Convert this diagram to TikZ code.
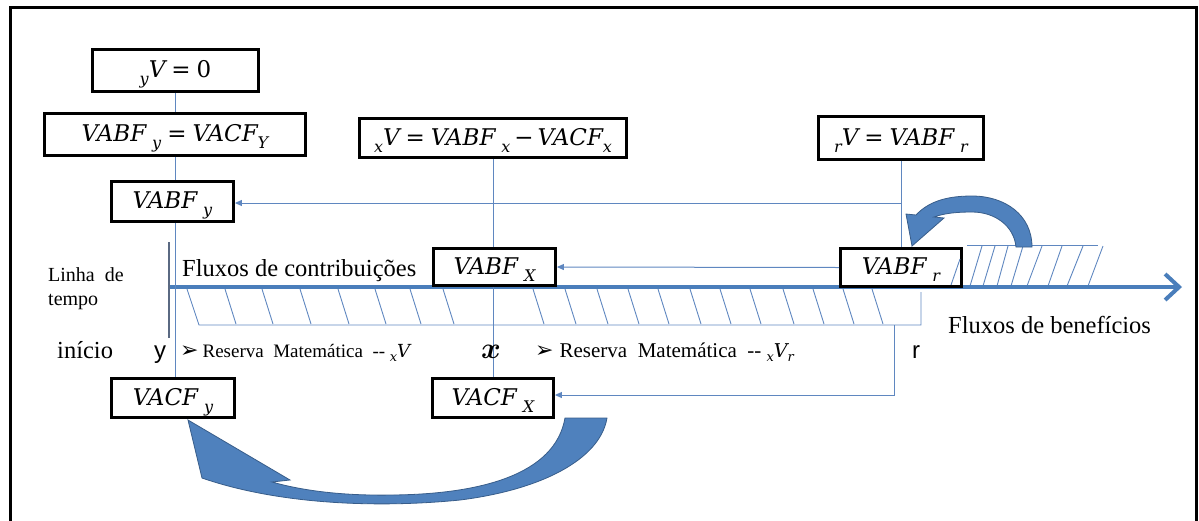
\documentclass[tikz,border=0pt]{standalone}
\usepackage{fix-cm}
\usepackage{amsmath}
\usepackage{fontspec}
\setmainfont{Liberation Serif}
\newfontfamily\arialf{Liberation Sans}
\newfontfamily\dejavu{DejaVu Sans}
\newfontfamily\dserif{DejaVu Serif}
\usetikzlibrary{arrows.meta}

\newcommand\mvar[1]{{\dserif\itshape #1}}
\newcommand\msub[1]{\raisebox{-7pt}{\fontsize{16}{16}\selectfont\dserif\itshape #1}}
\newcommand\meq{\hspace{6pt}{\dserif =}\hspace{6pt}}
\newcommand\mminus{\hspace{4pt}{\dserif −}\hspace{4pt}}

\definecolor{axisblue}{RGB}{74,126,187}
\definecolor{connblue}{RGB}{95,135,192}
\definecolor{arrfill}{RGB}{79,129,189}
\definecolor{arredge}{RGB}{56,93,138}
\definecolor{tickgray}{RGB}{90,105,130}

\tikzset{
 bx/.style={draw=black, line width=2.8pt, fill=white, inner sep=0pt, text height=22pt, text depth=8pt, font=\fontsize{23}{27}\selectfont},
 conn/.style={draw=connblue, line width=1pt},
 carrow/.style={conn, -{Triangle[length=7pt,width=6pt]}},
 hatch/.style={draw=connblue, line width=0.9pt},
 lbl/.style={inner sep=0pt, anchor=base west},
 txt/.style={lbl, font=\fontsize{24.5}{28}\selectfont},
 sans/.style={lbl, font=\arialf\fontsize{24}{28}\selectfont},
 blockarrow/.style={fill=arrfill, draw=arredge, line width=0.8pt},
}

\begin{document}
\begin{tikzpicture}[x=1pt,y=-1pt]
\useasboundingbox (0,0) rectangle (1199,520);

% frame (bottom cut off)
\draw[line width=3pt] (10,521) -- (10,7) -- (1196,7) -- (1196,521);

% hatched band under the axis
\draw[hatch] (187,289) -- (199,325) -- (921,325) -- (921,292);
\foreach \t in {225,262,300,338,375,410,443,533,565,597,628,658,690,720,750,783,813,843,872}
  \draw[hatch] (\t,289) -- ({\t+11},324);
% hatched band above the axis (right)
\draw[hatch] (967,245) -- (1098,245);
\foreach \b/\t in {970/982,983/995,997/1008,1011/1023,1027/1042,1048/1062,1067/1083,1088/1103}
  \draw[hatch] (\b,286) -- (\t,246);

% start tick of the time line
\draw[draw=tickgray, line width=1.4pt] (169,242) -- (169,338);

% time axis
\draw[draw=axisblue, line width=4pt, -{Straight Barb[length=14pt,width=26pt]}] (170,287) -- (1182,287);

% boxes
\node[bx, minimum width=166pt, minimum height=42pt] (yV0) at (175.5,70.5) {\msub{y}\mvar{V}\meq{\dserif 0}};
\node[bx, minimum width=261pt, minimum height=42pt] (eq1) at (175,134.5) {\mvar{VABF}\hspace{6pt}\msub{y}\meq\mvar{VACF}\msub{Y}};
\node[bx, minimum width=122pt, minimum height=40pt] (vabfy) at (172.5,201.5) {\mvar{VABF}\hspace{6pt}\msub{y}};
\node[bx, minimum width=267pt, minimum height=39pt] (xV) at (493,138) {\msub{x}\mvar{V}\meq\mvar{VABF}\hspace{6pt}\msub{x}\mminus\mvar{VACF}\msub{x}};
\node[bx, minimum width=165pt, minimum height=43pt] (rV) at (901,138) {\msub{r}\mvar{V}\meq\mvar{VABF}\hspace{6pt}\msub{r}};
\node[bx, minimum width=122pt, minimum height=37pt] (vabfX) at (494.5,267) {\mvar{VABF}\hspace{6pt}\msub{X}};
\node[bx, minimum width=121pt, minimum height=38pt] (vabfr) at (901,267.5) {\mvar{VABF}\hspace{6pt}\msub{r}};
\node[bx, minimum width=123pt, minimum height=39pt] (vacfy) at (173,398) {\mvar{VACF}\hspace{6pt}\msub{y}};
\node[bx, minimum width=121pt, minimum height=39pt] (vacfX) at (493,398) {\mvar{VACF}\hspace{6pt}\msub{X}};

% hatch stroke drawn over the VABF_r box
\draw[hatch] (951,285) -- (960,259);

% connectors
\coordinate (j1) at (901,203);
\coordinate (j2) at (894,325);
\coordinate (j3) at (894,395);
\draw[conn] (yV0.south) -- (yV0.south |- eq1.north);
\draw[conn] (eq1.south) -- (eq1.south |- vabfy.north);
\draw[conn] (eq1.south |- vabfy.south) -- (eq1.south |- vacfy.north);
\draw[conn] (xV.south) -- (xV.south |- vabfX.north);
\draw[conn] (xV.south |- vabfX.south) -- (xV.south |- vacfX.north);
\draw[conn] (rV.south) -- (rV.south |- vabfr.north);
\draw[carrow] (j1) -- (vabfy.east |- j1);
\draw[carrow] (vabfr.west) -- (vabfX.east);
\draw[carrow] (j2) -- (j3) -- (vacfX.east |- j3);

% labels
\node[lbl, font=\fontsize{20}{24}\selectfont] (linha) at (48,281) {Linha\ \ de};
\node[lbl, font=\fontsize{20}{24}\selectfont] (tempo) at (48,305) {tempo};
\node[txt] (fluxc) at (182,276) {Fluxos de contribuições};
\node[txt] (fluxb) at (948,333) {Fluxos de benefícios};
\node[txt] (inicio) at (57,358) {início};
\node[sans] (ylbl) at (154,358) {y};
\node[lbl, font=\fontsize{19}{22}\selectfont] (res1) at (180,357) {{\dejavu\fontsize{22}{22}\selectfont ➢}\hspace{4pt}Reserva\ \ Matemática\ \ -{}-\ {\fontsize{13}{14}\selectfont\raisebox{-4pt}{\dserif\itshape x}}{\fontsize{18}{20}\selectfont\dserif\itshape V}};
\node[lbl, font=\fontsize{30}{32}\selectfont] (xlbl) at (481,358) {$\boldsymbol{x}$};
\node[lbl, font=\fontsize{21}{24}\selectfont] (res2) at (535,357) {{\dejavu\fontsize{22}{22}\selectfont ➢}\hspace{6pt}Reserva\ \ Matemática\ \ -{}-\ {\fontsize{13}{14}\selectfont\raisebox{-4pt}{\dserif\itshape x}}{\fontsize{19}{20}\selectfont\dserif\itshape V}{\fontsize{13}{14}\selectfont\raisebox{-4pt}{\dserif\itshape r}}};
\node[sans] (rlbl) at (912,358) {r};

% big curved block arrows
\draw[blockarrow] (188,420) -- (290,480) -- (272,482)
  .. controls (300,490) and (340,496) .. (393,495)
  .. controls (480,494) and (555,475) .. (565,418)
  -- (607,418)
  .. controls (600,460) and (540,490) .. (460,500)
  .. controls (380,508) and (280,505) .. (202,478) -- cycle;
\draw[blockarrow] (912,246) -- (906,214) -- (916,215)
  .. controls (930,200) and (950,196) .. (972,196)
  .. controls (1005,196) and (1032,215) .. (1032,247)
  -- (1016,247)
  .. controls (1014,226) and (995,212) .. (972,212)
  .. controls (958,212) and (945,213) .. (934,217)
  -- (944,218) -- cycle;
\end{tikzpicture}
\end{document}
